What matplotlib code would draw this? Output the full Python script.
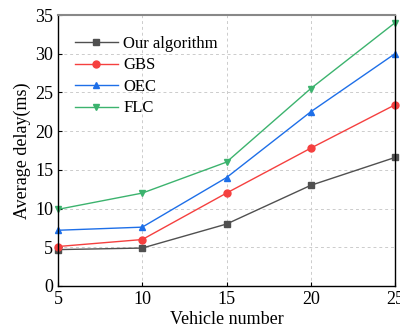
import matplotlib
matplotlib.use('Agg')
import matplotlib.pyplot as plt

plt.rcParams['font.family'] = ['Liberation Serif', 'DejaVu Serif']

# data
vehicles = [5, 10, 15, 20, 25]
ours = [4.7, 4.9, 8.0, 13.0, 16.6]
gbs = [5.1, 6.0, 12.0, 17.8, 23.4]
oec = [7.2, 7.6, 14.0, 22.5, 30.0]
flc = [9.9, 12.0, 16.0, 25.5, 34.0]

fig = plt.figure(figsize=(4.0, 3.29), dpi=100)
ax = fig.add_axes([58 / 400, 1 - 286 / 329, 337 / 400, 271 / 329])

ax.plot(vehicles, ours, color='#505050', marker='s', markersize=5, lw=1, label='Our algorithm', clip_on=False)
ax.plot(vehicles, gbs, color='#f5403f', marker='o', markersize=5, lw=1, label='GBS', clip_on=False)
ax.plot(vehicles, oec, color='#1e6fe8', marker='^', markersize=5, lw=1, label='OEC', clip_on=False)
ax.plot(vehicles, flc, color='#3cb36e', marker='v', markersize=5, lw=1, label='FLC', clip_on=False)

ax.set_xlim(5, 25)
ax.set_ylim(0, 35)
ax.set_xticks(vehicles)
ax.set_yticks(range(0, 36, 5))
ax.grid(True, ls=(0, (3, 3)), color='#cccccc', lw=0.7)
ax.tick_params(direction='in', labelsize=13, length=3)
ax.spines['top'].set_color('#888888')
ax.spines['top'].set_linewidth(1.5)
for s in ['left', 'bottom', 'right']:
    ax.spines[s].set_linewidth(1.0)

ax.set_xlabel('Vehicle number', fontsize=13, labelpad=2)
ax.set_ylabel('Average delay(ms)', fontsize=13, labelpad=3)

ax.legend(loc='upper left', bbox_to_anchor=(0.02, 0.96), frameon=False, fontsize=12,
          handlelength=2.6, handletextpad=0.3, labelspacing=0.33, borderaxespad=0.2)

fig.savefig('out.png', dpi=100)
